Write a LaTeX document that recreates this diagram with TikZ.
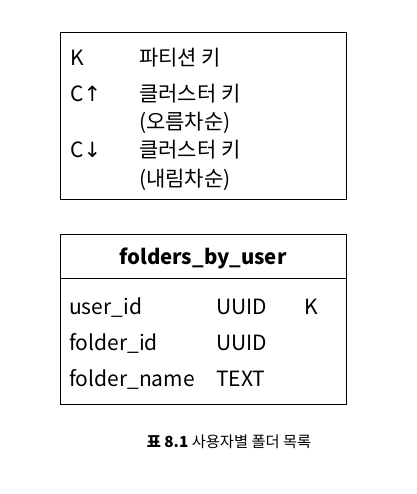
\documentclass[tikz,border=0pt]{standalone}
\usepackage{fontspec}
\setmainfont{Noto Sans CJK KR}
\newfontfamily\sym{DejaVu Sans}
\begin{document}
\begin{tikzpicture}[x=1pt,y=-1pt,
  frame/.style={draw, line width=1pt},
  txt/.style={anchor=base west, inner sep=0pt, font=\fontsize{21}{24}\selectfont},
  captxt/.style={anchor=base, inner sep=0pt, font=\fontsize{15.3}{18}\selectfont}]
\useasboundingbox (0,0) rectangle (416,494);
% legend box
\draw[frame] (60,33) rectangle (346,199);
\node[txt] (k) at (70,66) {K};
\node[txt] (kd) at (139,66) {파티션 키};
\node[txt] (cu) at (70,102) {C{\sym↑}};
\node[txt] (cud) at (139,102) {클러스터 키};
\node[txt] (cud2) at (139,130) {(오름차순)};
\node[txt] (cd) at (70,158) {C{\sym↓}};
\node[txt] (cdd) at (139,158) {클러스터 키};
\node[txt] (cdd2) at (139,186) {(내림차순)};
% table
\draw[frame] (60,234) rectangle (346,404);
\draw[frame] (60,278) -- (346,278);
\node[anchor=base, inner sep=0pt, font=\fontsize{20.4}{24}\selectfont\bfseries] (title) at (203,264) {folders\_by\_user};
\node[txt] (r1a) at (69,314) {user\_id};
\node[txt] (r1b) at (216,314) {UUID};
\node[txt] (r1c) at (304,314) {K};
\node[txt] (r2a) at (69,350) {folder\_id};
\node[txt] (r2b) at (216,350) {UUID};
\node[txt] (r3a) at (69,386) {folder\_name};
\node[txt] (r3b) at (216,386) {TEXT};
% caption
\node[captxt] (caption) at (229,447) {\textbf{표 8.1} 사용자별 폴더 목록};
\end{tikzpicture}
\end{document}
